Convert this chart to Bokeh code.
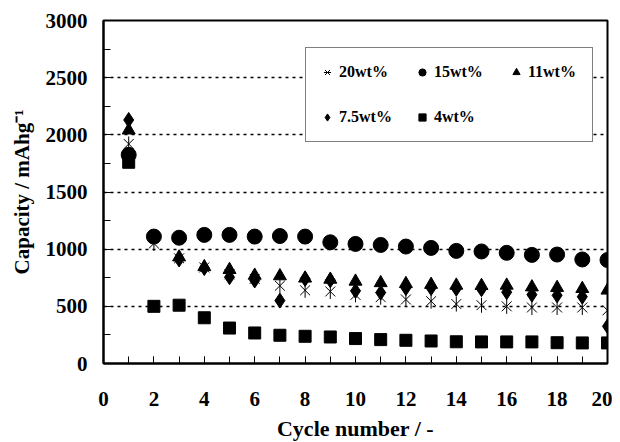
from bokeh.plotting import figure
from bokeh.models import Range1d, Legend, LegendItem, FixedTicker
from bokeh.embed import file_html
from bokeh.resources import INLINE
import math

nan = float("nan")
cycles = list(range(1, 21))
cap_20 = [1920, 1050, 920, 840, 780, 740, 680, 640, 630, 600, 580, 560, 545, 520, 510, 500, 490, 490, 490, 465]
cap_15 = [1825, 1110, 1100, 1125, 1125, 1110, 1115, 1110, 1060, 1046, 1037, 1023, 1011, 985, 980, 968, 950, 953, 910, 905]
cap_11 = [2040, nan, 930, 845, 820, 770, 765, 745, 735, 718, 705, 697, 690, 683, 680, 683, 668, 663, 654, 640]
cap_75 = [2130, nan, 910, 835, 755, 726, 550, 740, 728, 635, 620, 660, 660, 654, 650, 624, 602, 596, 584, 325]
cap_4 = [1760, 500, 510, 400, 310, 267, 247, 238, 232, 218, 209, 203, 197, 190, 189, 189, 189, 182, 180, 180]
labels = ["20wt%", "15wt%", "11wt%", "7.5wt%", "4wt%"]
x_ticks = list(range(0, 21, 2))
y_ticks = list(range(0, 3001, 500))

FONT = "Liberation Serif"

p = figure(frame_width=504, frame_height=343, output_backend="svg", toolbar_location=None,
           x_range=Range1d(0, 20), y_range=Range1d(0, 3000),
           min_border_left=103, min_border_right=5, min_border_top=20, min_border_bottom=0)
p.background_fill_color = "white"
p.border_fill_color = "white"
p.outline_line_color = "black"
p.outline_line_width = 2

# grids
p.xgrid.grid_line_color = None
p.ygrid.grid_line_color = "black"
p.ygrid.grid_line_dash = "3 4"
p.ygrid.grid_line_width = 1.5
p.ygrid.ticker = FixedTicker(ticks=y_ticks)

# axes
for ax in (p.xaxis[0], p.yaxis[0]):
    ax.axis_line_color = "black"
    ax.axis_line_width = 2
    ax.major_tick_line_color = "black"
    ax.minor_tick_line_color = "black"
    ax.major_tick_line_width = 1
    ax.minor_tick_line_width = 1
    ax.major_tick_out = 0
    ax.minor_tick_out = 0
    ax.major_label_text_font = FONT
    ax.major_label_text_font_style = "bold"
    ax.major_label_text_font_size = "21px"
    ax.major_label_text_color = "black"
    ax.axis_label_text_font = FONT
    ax.axis_label_text_font_style = "bold"
    ax.axis_label_text_color = "black"

p.xaxis[0].ticker = FixedTicker(ticks=x_ticks, minor_ticks=list(range(0, 21)))
p.xaxis[0].major_tick_in = 7
p.xaxis[0].minor_tick_in = 7
p.xaxis[0].major_label_standoff = 28
p.xaxis[0].axis_label = "Cycle number / -"
p.xaxis[0].axis_label_text_font_size = "22px"
p.xaxis[0].axis_label_standoff = 7

p.yaxis[0].ticker = FixedTicker(ticks=y_ticks, minor_ticks=list(range(0, 3001, 250)))
p.yaxis[0].major_tick_in = 7
p.yaxis[0].minor_tick_in = 7
p.yaxis[0].major_label_standoff = 16
p.yaxis[0].axis_label = "Capacity / mAhg\u207b\u00b9"
p.yaxis[0].axis_label_text_font_size = "21px"
p.yaxis[0].axis_label_standoff = 9

# series
r20a = p.scatter(cycles, cap_20, marker="x", size=14, line_color="black", line_width=1)
r20b = p.scatter(cycles, cap_20, marker="dash", angle=math.pi / 2, size=15, line_color="black", line_width=1)
r15 = p.scatter(cycles, cap_15, marker="circle", size=15, fill_color="black", line_color="black")
r11 = p.scatter(cycles, cap_11, marker="triangle", size=13, fill_color="black", line_color="black")
r75 = p.scatter(cycles, cap_75, marker="diamond", size=15, fill_color="black", line_color="black")
r4 = p.scatter(cycles, cap_4, marker="square", size=12, fill_color="black", line_color="black")

items = [
    LegendItem(label=labels[0], renderers=[r20a, r20b]),
    LegendItem(label=labels[1], renderers=[r15]),
    LegendItem(label=labels[2], renderers=[r11]),
    LegendItem(label=labels[3], renderers=[r75]),
    LegendItem(label=labels[4], renderers=[r4]),
]
legend = Legend(items=items, orientation="horizontal", ncols=3,
                location=(202, 221))
legend.label_text_font = FONT
legend.label_text_font_style = "bold"
legend.label_text_font_size = "16px"
legend.label_text_color = "black"
legend.glyph_width = 18
legend.glyph_height = 18
legend.label_standoff = 3
legend.label_width = 52
legend.label_height = 24
legend.spacing = 21
legend.padding = 12
legend.margin = 0
legend.border_line_color = "black"
legend.border_line_width = 1
legend.background_fill_color = "white"
legend.background_fill_alpha = 1
p.add_layout(legend, "center")

open("out.html", "w").write(file_html(p, INLINE))
